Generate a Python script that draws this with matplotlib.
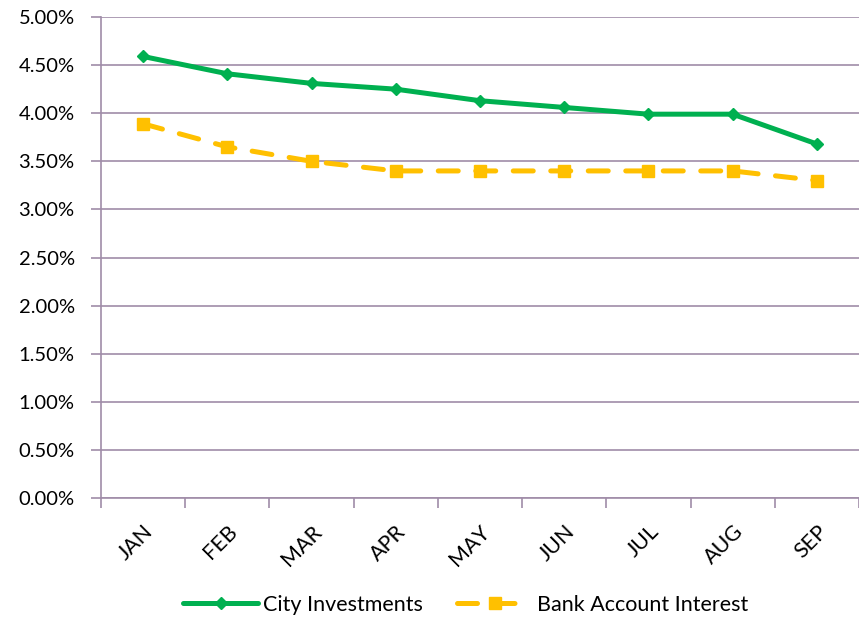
import matplotlib
matplotlib.use('Agg')
import matplotlib.pyplot as plt
from matplotlib.ticker import FuncFormatter, FixedLocator

months = ['JAN', 'FEB', 'MAR', 'APR', 'MAY', 'JUN', 'JUL', 'AUG', 'SEP']
city = [4.59, 4.41, 4.31, 4.25, 4.13, 4.06, 3.99, 3.99, 3.68]
bank = [3.89, 3.65, 3.50, 3.40, 3.40, 3.40, 3.40, 3.40, 3.30]

GREEN = '#00B050'
GOLD = '#FFC000'
GRID = '#A08CA8'

plt.rcParams['font.family'] = ['Lato', 'DejaVu Sans']

fig = plt.figure(figsize=(8.59, 6.19), dpi=100)
ax = fig.add_axes([0.1176, 0.1955, 0.8824, 0.777])

x = list(range(len(months)))
ax.plot(x, city, '-', color=GREEN, linewidth=3.6, marker='D', markersize=6,
        solid_capstyle='round', label='City Investments', zorder=3)
ax.plot(x, bank, color=GOLD, linewidth=3.6, marker='s', markersize=9,
        dashes=(4, 3.5), dash_capstyle='round', label='Bank Account Interest', zorder=3)

ax.set_xlim(-0.5, len(months) - 0.5)
ax.set_ylim(0, 5.0)
ax.set_yticks([i * 0.5 for i in range(11)])
ax.yaxis.set_major_formatter(FuncFormatter(lambda v, p: f'{v:.2f}%'))
ax.grid(axis='y', color=GRID, linewidth=1.2)
ax.set_axisbelow(True)

ax.set_xticks(x)
ax.set_xticklabels(months, rotation=45, ha='right', va='top', rotation_mode='anchor')
ax.xaxis.set_minor_locator(FixedLocator([i - 0.5 for i in range(len(months) + 1)]))
ax.tick_params(axis='x', which='major', length=0, pad=17, labelsize=15.5)
ax.tick_params(axis='x', which='minor', length=7, color=GRID, width=1.2)
ax.tick_params(axis='y', length=7, color=GRID, width=1.2, labelsize=14.5, pad=12)

for s in ['top', 'right']:
    ax.spines[s].set_visible(False)
for s in ['left', 'bottom']:
    ax.spines[s].set_color(GRID)
    ax.spines[s].set_linewidth(1.2)

fig.legend(loc='center', bbox_to_anchor=(0.542, 0.023), ncol=2, frameon=False,
           fontsize=15.5, handlelength=3.5, columnspacing=1.6, handletextpad=0.2)

plt.savefig('out.png', dpi=100)
plt.close()
